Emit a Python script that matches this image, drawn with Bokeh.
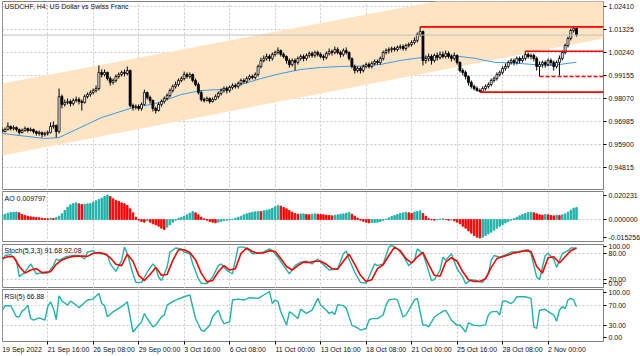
from bokeh.plotting import figure
from bokeh.layouts import column
from bokeh.models import (FixedTicker, Range1d, Label, ColumnDataSource, Span, Grid,
                          PrintfTickFormatter)
from bokeh.embed import file_html
from bokeh.resources import INLINE

FONT = "Liberation Sans"
FS = "7px"
GRID = "#c8c8c8"
TEAL = "#20b2aa"
RED = "#ff0000"

# ---------------- data ----------------
title_text = "USDCHF, H4:  US Dollar vs Swiss Franc"
time_bars = [0, 16, 32, 48, 64, 80, 96, 112, 128, 144, 160, 176, 192]
time_labels = ["19 Sep 2022", "21 Sep 16:00", "26 Sep 08:00", "29 Sep 00:00", "3 Oct 16:00",
               "6 Oct 08:00", "11 Oct 00:00", "13 Oct 16:00", "18 Oct 08:00", "21 Oct 00:00",
               "25 Oct 16:00", "28 Oct 08:00", "2 Nov 00:00"]

first_open = 0.9661
close = [
    0.9651, 0.9661, 0.9675, 0.9665, 0.9670, 0.9661, 0.9647, 0.9656, 0.9665, 0.9656,
    0.9661, 0.9651, 0.9642, 0.9647, 0.9637, 0.9642, 0.9647, 0.9675, 0.9680, 0.9651,
    0.9816, 0.9779, 0.9788, 0.9793, 0.9783, 0.9798, 0.9802, 0.9793, 0.9788, 0.9816,
    0.9826, 0.9835, 0.9845, 0.9854, 0.9930, 0.9920, 0.9930, 0.9901, 0.9883, 0.9892,
    0.9911, 0.9920, 0.9930, 0.9925, 0.9939, 0.9774, 0.9765, 0.9769, 0.9760, 0.9779,
    0.9835, 0.9812, 0.9798, 0.9760, 0.9750, 0.9779, 0.9793, 0.9807, 0.9821, 0.9845,
    0.9864, 0.9873, 0.9892, 0.9901, 0.9920, 0.9911, 0.9920, 0.9892, 0.9873, 0.9835,
    0.9802, 0.9798, 0.9807, 0.9793, 0.9802, 0.9816, 0.9831, 0.9845, 0.9854, 0.9845,
    0.9859, 0.9868, 0.9864, 0.9878, 0.9892, 0.9887, 0.9901, 0.9911, 0.9906, 0.9920,
    0.9958, 0.9986, 0.9996, 1.0005, 0.9996, 1.0015, 1.0024, 1.0033, 1.0015, 1.0005,
    0.9986, 0.9967, 0.9986, 0.9977, 0.9996, 1.0005, 0.9996, 1.0010, 1.0019, 1.0010,
    1.0024, 1.0015, 1.0005, 1.0000, 1.0019, 1.0029, 1.0024, 1.0038, 1.0024, 1.0015,
    1.0033, 1.0024, 0.9996, 0.9958, 0.9939, 0.9949, 0.9939, 0.9958, 0.9967, 0.9958,
    0.9972, 0.9982, 0.9977, 0.9996, 1.0024, 1.0033, 1.0038, 1.0043, 1.0038, 1.0048,
    1.0052, 1.0043, 1.0057, 1.0062, 1.0071, 1.0081, 1.0109, 1.0123, 0.9986, 0.9996,
    1.0005, 0.9986, 1.0010, 1.0000, 1.0015, 1.0005, 1.0019, 1.0005, 0.9996, 1.0010,
    0.9977, 0.9939, 0.9930, 0.9911, 0.9883, 0.9864, 0.9854, 0.9845, 0.9840, 0.9854,
    0.9864, 0.9873, 0.9892, 0.9901, 0.9920, 0.9930, 0.9949, 0.9958, 0.9977, 0.9986,
    0.9977, 0.9996, 0.9986, 0.9996, 1.0015, 1.0005, 1.0010, 0.9996, 0.9958, 0.9967,
    0.9977, 0.9967, 0.9986, 0.9977, 0.9958, 0.9977, 0.9996, 1.0024, 1.0057, 1.0090,
    1.0128, 1.0137, 1.01062,
]
high = [
    0.9670, 0.9670, 0.9694, 0.9680, 0.9680, 0.9675, 0.9665, 0.9665, 0.9675, 0.9670,
    0.9670, 0.9665, 0.9656, 0.9656, 0.9651, 0.9651, 0.9656, 0.9694, 0.9699, 0.9684,
    0.9854, 0.9826, 0.9802, 0.9807, 0.9802, 0.9807, 0.9816, 0.9812, 0.9802, 0.9826,
    0.9835, 0.9845, 0.9854, 0.9868, 0.9963, 0.9944, 0.9944, 0.9934, 0.9911, 0.9901,
    0.9920, 0.9930, 0.9939, 0.9944, 0.9958, 0.9944, 0.9783, 0.9779, 0.9779, 0.9788,
    0.9849, 0.9840, 0.9821, 0.9802, 0.9769, 0.9788, 0.9802, 0.9816, 0.9831, 0.9854,
    0.9873, 0.9887, 0.9901, 0.9911, 0.9934, 0.9930, 0.9930, 0.9925, 0.9901, 0.9883,
    0.9845, 0.9812, 0.9816, 0.9812, 0.9812, 0.9826, 0.9840, 0.9854, 0.9864, 0.9864,
    0.9868, 0.9878, 0.9878, 0.9887, 0.9901, 0.9901, 0.9911, 0.9920, 0.9920, 0.9930,
    0.9967, 1.0000, 1.0010, 1.0019, 1.0015, 1.0024, 1.0033, 1.0048, 1.0038, 1.0024,
    1.0010, 0.9996, 0.9996, 0.9996, 1.0005, 1.0015, 1.0015, 1.0019, 1.0029, 1.0029,
    1.0033, 1.0033, 1.0024, 1.0015, 1.0029, 1.0043, 1.0038, 1.0052, 1.0048, 1.0033,
    1.0043, 1.0048, 1.0029, 1.0000, 0.9967, 0.9958, 0.9958, 0.9967, 0.9977, 0.9977,
    0.9982, 0.9991, 0.9991, 1.0005, 1.0033, 1.0043, 1.0048, 1.0052, 1.0052, 1.0057,
    1.0062, 1.0062, 1.0066, 1.0071, 1.0081, 1.0095, 1.0118, 1.0145, 1.0128, 1.0010,
    1.0019, 1.0015, 1.0019, 1.0024, 1.0029, 1.0029, 1.0033, 1.0029, 1.0015, 1.0024,
    1.0015, 0.9982, 0.9949, 0.9939, 0.9916, 0.9892, 0.9873, 0.9864, 0.9854, 0.9864,
    0.9873, 0.9883, 0.9901, 0.9911, 0.9930, 0.9939, 0.9958, 0.9972, 0.9986, 0.9996,
    0.9996, 1.0005, 1.0005, 1.0010, 1.0030, 1.0024, 1.0019, 1.0019, 1.0005, 0.9982,
    0.9986, 0.9986, 0.9996, 0.9996, 0.9986, 0.9986, 1.0010, 1.0033, 1.0066, 1.0099,
    1.0137, 1.0145, 1.0142,
]
low = [
    0.9642, 0.9647, 0.9656, 0.9656, 0.9656, 0.9651, 0.9637, 0.9642, 0.9651, 0.9647,
    0.9651, 0.9642, 0.9632, 0.9632, 0.9623, 0.9628, 0.9632, 0.9642, 0.9665, 0.9623,
    0.9642, 0.9760, 0.9769, 0.9779, 0.9769, 0.9774, 0.9788, 0.9779, 0.9750, 0.9783,
    0.9807, 0.9816, 0.9826, 0.9835, 0.9845, 0.9906, 0.9911, 0.9892, 0.9868, 0.9873,
    0.9883, 0.9901, 0.9911, 0.9911, 0.9916, 0.9765, 0.9750, 0.9755, 0.9750, 0.9750,
    0.9774, 0.9802, 0.9783, 0.9746, 0.9736, 0.9746, 0.9769, 0.9783, 0.9798, 0.9812,
    0.9835, 0.9854, 0.9864, 0.9883, 0.9892, 0.9901, 0.9901, 0.9883, 0.9864, 0.9826,
    0.9793, 0.9788, 0.9793, 0.9783, 0.9788, 0.9798, 0.9807, 0.9821, 0.9835, 0.9831,
    0.9835, 0.9849, 0.9854, 0.9854, 0.9868, 0.9878, 0.9878, 0.9892, 0.9897, 0.9897,
    0.9911, 0.9949, 0.9977, 0.9986, 0.9982, 0.9986, 1.0005, 1.0015, 1.0005, 0.9996,
    0.9972, 0.9953, 0.9958, 0.9939, 0.9967, 0.9986, 0.9982, 0.9986, 1.0000, 1.0000,
    1.0000, 1.0005, 0.9996, 0.9986, 0.9991, 1.0010, 1.0010, 1.0015, 1.0015, 1.0000,
    1.0005, 1.0015, 0.9986, 0.9949, 0.9925, 0.9930, 0.9925, 0.9930, 0.9949, 0.9949,
    0.9949, 0.9963, 0.9967, 0.9967, 0.9986, 1.0015, 1.0019, 1.0024, 1.0029, 1.0029,
    1.0038, 1.0033, 1.0033, 1.0048, 1.0052, 1.0062, 1.0071, 1.0099, 0.9963, 0.9972,
    0.9982, 0.9967, 0.9977, 0.9986, 0.9991, 0.9996, 0.9996, 0.9996, 0.9982, 0.9986,
    0.9967, 0.9930, 0.9916, 0.9897, 0.9868, 0.9854, 0.9845, 0.9840, 0.9837, 0.9840,
    0.9845, 0.9854, 0.9864, 0.9883, 0.9892, 0.9911, 0.9920, 0.9939, 0.9949, 0.9967,
    0.9963, 0.9967, 0.9972, 0.9977, 0.9986, 0.9996, 0.9991, 0.9982, 0.9939, 0.9911,
    0.9953, 0.9953, 0.9958, 0.9963, 0.9939, 0.9949, 0.9916, 0.9986, 1.0015, 1.0048,
    1.0081, 1.0118, 1.0099,
]

ma_bars = [0, 15, 20, 35, 45, 54, 63, 70, 77, 84, 91, 98, 105, 112, 119, 126, 133, 140,
           145, 151, 157, 161, 166, 173, 182, 192, 196, 202]
ma_vals = [0.96419, 0.96183, 0.96230, 0.97174, 0.97598, 0.97834, 0.98259, 0.98447, 0.98495,
           0.98730, 0.99013, 0.99249, 0.99438, 0.99532, 0.99580, 0.99603, 0.99674, 0.99863,
           0.99957, 1.00051, 1.00098, 1.00051, 0.99971, 0.99782, 0.99721, 0.99627, 0.99674,
           0.99782]

price_ticks = [1.02410, 1.01325, 1.00240, 0.99155, 0.98070, 0.96985, 0.95900, 0.94815]
bid_price = 1.01062
level_prices = [1.0145, 1.0030, 0.9911, 0.9837]
level_start = [147, 184, 189, 168]
level_dash = ["solid", "solid", "4 2", "solid"]
channel_bars = [0.1, 211.5]
channel_upper = [0.98778, 1.04155]
channel_lower = [0.95381, 1.00901]

ao = [
    0.00386, 0.00441, 0.00523, 0.00579, 0.00606, 0.00620, 0.00551, 0.00413, 0.00331, 0.00275,
    0.00220, 0.00193, 0.00165, 0.00138, 0.00110, 0.00083, 0.00055, 0.00110, 0.00083, 0.00165,
    0.00275, 0.00468, 0.00744, 0.01019, 0.01212, 0.01322, 0.01377, 0.01295, 0.01240, 0.01267,
    0.01295, 0.01322, 0.01433, 0.01543, 0.01653, 0.01763, 0.01901, 0.020231, 0.01901, 0.01708,
    0.01570, 0.01488, 0.01377, 0.01295, 0.01157, 0.00882, 0.00551, 0.00193, -0.00055, -0.00165,
    -0.00220, -0.00110, -0.00220, -0.00358, -0.00441, -0.00551, -0.00716, -0.00826, -0.00634, -0.00441,
    -0.00220, -0.00055, 0.00110, 0.00165, 0.00275, 0.00386, 0.00523, 0.00661, 0.00551, 0.00386,
    0.00193, 0.00055, -0.00055, -0.00165, -0.00220, -0.00275, -0.00220, -0.00165, -0.00110, -0.00055,
    -0.00028, 0.00014, 0.00110, 0.00193, 0.00275, 0.00386, 0.00468, 0.00551, 0.00606, 0.00634,
    0.00661, 0.00647, 0.00716, 0.00771, 0.00826, 0.00937, 0.01047, 0.01157, 0.01102, 0.00992,
    0.00882, 0.00744, 0.00606, 0.00496, 0.00441, 0.00455, 0.00468, 0.00413, 0.00386, 0.00441,
    0.00468, 0.00441, 0.00413, 0.00386, 0.00358, 0.00331, 0.00303, 0.00358, 0.00386, 0.00441,
    0.00468, 0.00523, 0.00579, 0.00441, 0.00275, 0.00110, -0.00055, -0.00138, -0.00220, -0.00275,
    -0.00262, -0.00248, -0.00220, -0.00165, -0.00083, 0.00028, 0.00138, 0.00248, 0.00331, 0.00413,
    0.00496, 0.00551, 0.00606, 0.00551, 0.00496, 0.00606, 0.00661, 0.00716, 0.00496, 0.00275,
    0.00055, -0.00028, -0.00055, -0.00028, 0.00028, 0.00055, 0.00000, -0.00055, -0.00028, -0.00110,
    -0.00220, -0.00358, -0.00551, -0.00716, -0.00937, -0.01129, -0.01322, -0.01460, -0.015256, -0.01460,
    -0.01322, -0.01185, -0.01047, -0.00882, -0.00716, -0.00551, -0.00413, -0.00275, -0.00165, -0.00055,
    0.00083, 0.00193, 0.00303, 0.00413, 0.00496, 0.00579, 0.00606, 0.00551, 0.00468, 0.00386,
    0.00358, 0.00413, 0.00386, 0.00331, 0.00303, 0.00358, 0.00331, 0.00386, 0.00468, 0.00606,
    0.00771, 0.00937, 0.009797,
]
ao_ticks = [0.020231, 0.0, -0.015256]

k_bars = [0, 1, 3, 5, 6, 8, 10, 11, 12, 13, 16, 18, 19, 20, 22, 23, 25, 27, 29, 30, 32, 33, 35,
          37, 38, 40, 42, 43, 44, 46, 47, 49, 51, 53, 54, 55, 56, 58, 59, 61, 63, 64, 66, 67,
          69, 70, 72, 74, 76, 77, 79, 81, 82, 83, 85, 87, 88, 90, 92, 94, 95, 97, 99, 101, 103,
          105, 107, 109, 111, 112, 114, 115, 118, 120, 121, 122, 124, 126, 128, 129, 131, 132,
          134, 136, 137, 139, 141, 143, 145, 146, 148, 149, 151, 152, 154, 155, 156, 158, 160,
          162, 163, 165, 167, 169, 171, 172, 173, 175, 178, 179, 181, 183, 185, 186, 188, 189,
          191, 192, 194, 195, 197, 199, 200, 202]
k_vals = [64, 75, 77, 64, 27, 37, 56, 45, 33, 35, 35, 52, 67, 64, 71, 73, 75, 75, 67, 83, 86, 80,
          79, 77, 56, 39, 64, 94, 79, 33, 14, 14, 37, 56, 48, 26, 18, 48, 83, 92, 90, 83, 79, 56,
          22, 12, 11, 26, 52, 56, 41, 33, 64, 94, 94, 86, 79, 80, 83, 90, 86, 71, 52, 33, 52,
          60, 62, 56, 67, 60, 48, 42, 45, 79, 85, 67, 37, 14, 12, 26, 56, 52, 56, 94, 98, 90,
          75, 52, 64, 90, 79, 60, 18, 20, 41, 71, 64, 79, 45, 26, 11, 20, 18, 14, 33, 64, 75,
          71, 79, 83, 83, 86, 88, 79, 26, 20, 75, 80, 67, 48, 79, 86, 92, 91.68]
d_bars = [0, 2, 4, 6, 8, 10, 12, 14, 17, 19, 21, 23, 25, 28, 30, 32, 34, 36, 38, 40, 42, 44, 46,
          48, 50, 52, 54, 56, 58, 60, 62, 64, 66, 68, 70, 72, 74, 76, 78, 80, 82, 84, 86, 88,
          90, 92, 94, 96, 98, 100, 102, 104, 106, 108, 110, 112, 114, 116, 118, 120, 122, 124,
          126, 128, 130, 132, 134, 136, 138, 140, 142, 144, 146, 148, 150, 152, 154, 156, 158,
          160, 162, 164, 166, 168, 170, 172, 174, 176, 178, 180, 182, 184, 186, 188, 190, 192,
          194, 196, 198, 200, 202]
d_vals = [68, 72, 72, 50, 35, 42, 45, 36, 38, 55, 65, 70, 73, 74, 73, 80, 82, 79, 70, 55, 52, 78,
          62, 30, 18, 32, 48, 30, 32, 64, 88, 88, 82, 65, 35, 15, 18, 38, 52, 42, 45, 80, 92,
          84, 80, 81, 86, 84, 68, 50, 42, 52, 60, 59, 62, 62, 55, 45, 44, 62, 78, 55, 30, 16,
          20, 45, 54, 75, 94, 86, 68, 58, 72, 82, 55, 30, 28, 60, 70, 62, 38, 20, 16, 16, 22,
          48, 68, 72, 76, 81, 83, 86, 84, 50, 35, 70, 72, 58, 72, 86, 92.08]
stoch_ticks = [95.5, 80, 20, 12]
stoch_tick_labels = ["100.00", "80.00", "20.00", "0.00"]

rsi_bars = [0, 1, 3, 5, 6, 7, 8, 9, 10, 11, 13, 15, 16, 17, 18, 19, 20, 21, 23, 24, 26, 27, 29,
            30, 32, 34, 35, 36, 37, 39, 41, 43, 44, 46, 47, 49, 50, 51, 53, 54, 56, 57, 58, 60,
            61, 64, 66, 67, 68, 70, 71, 73, 74, 76, 77, 78, 80, 81, 83, 85, 87, 90, 92, 94, 95,
            96, 97, 98, 100, 101, 102, 104, 105, 107, 109, 111, 112,
            114, 115, 116, 117, 118, 120, 121, 123, 125, 126, 128, 129, 130, 132, 134, 135, 136,
            138, 139, 141, 142, 144, 145, 146, 148, 149, 150, 152, 153, 155, 156, 157, 158, 160,
            161, 162, 163, 164, 166, 168, 169, 170, 171, 172, 174, 175, 176, 177, 179, 180, 181,
            183, 184, 186, 187, 188, 189, 191, 193, 194, 195, 196, 197, 198, 199, 200, 201, 202]
rsi_vals = [60.3, 68.7, 68.7, 47.5, 47.5, 58.4, 62.3, 70.0, 44.2, 41.0, 45.5, 41.0, 66.8, 76.5,
            63.6, 42.0, 88.0, 78.0, 70.0, 77.8, 70.0, 64.9, 75.2, 79.7, 81.6, 92.6, 73.2, 68.7,
            47.5, 57.1, 63.6, 71.3, 76.5, 18.4, 24.9, 37.8, 53.9, 44.2, 28.1, 31.3, 47.5, 50.7,
            70.0, 76.5, 79.7, 86.1, 89.4, 66.8, 44.2, 21.7, 19.7, 31.3, 47.5, 60.3, 44.2, 34.5,
            37.8, 79.7, 81.6, 79.7, 84.2, 82.9, 89.4, 95.8, 73.2, 79.7, 76.5, 57.1, 31.3, 57.1,
            53.9, 44.2, 62.3, 53.9, 60.3, 82.9, 70.0,
            60, 54, 57, 52, 71, 69, 64, 31, 26, 22, 25, 41, 44, 44, 51, 70, 80,
            82, 80, 47, 51, 70, 80, 83, 31, 32, 28, 47, 51, 58, 60, 51, 41, 31,
            32, 25, 18, 36, 31, 30, 31, 32, 51, 57, 58, 51, 77, 78, 73, 77, 86,
            86, 86, 83, 28, 25, 60, 62, 54, 51, 39, 60, 67, 63, 80, 83, 80, 66.88]
rsi_ticks = [93.7, 70, 30, 8.3]
rsi_tick_labels = ["100.00", "70.00", "30.00", "0.00"]

# ---------------- derived series ----------------
n = len(close)
idx = list(range(n))
opens = [first_open] + close[:-1]
bull = [c >= o for o, c in zip(opens, close)]

X = Range1d(0.1, 211.5)
PX_PER_BAR = 601 / (X.end - X.start)


def style_yaxis(p, ticks, overrides=None, fmt=None):
    ax = p.yaxis[0]
    ax.ticker = FixedTicker(ticks=ticks)
    if overrides:
        ax.major_label_overrides = overrides
    if fmt:
        ax.formatter = PrintfTickFormatter(format=fmt)
    ax.axis_line_color = None
    ax.major_tick_out = 3
    ax.major_tick_in = 0
    ax.major_tick_line_color = "#000000"
    ax.minor_tick_line_color = None
    ax.major_label_standoff = 2
    ax.major_label_text_font = FONT
    ax.major_label_text_font_size = FS
    ax.major_label_text_color = "#111111"


def make_fig(frame_h, yr, top, bottom, with_x=False):
    p = figure(frame_width=601, frame_height=frame_h, x_range=X, y_range=yr,
               output_backend="svg", toolbar_location=None, title=None,
               x_axis_location="below" if with_x else None, y_axis_location="right",
               min_border_left=2, min_border_right=37, min_border_top=top,
               min_border_bottom=bottom)
    p.outline_line_color = "#808080"
    p.outline_line_width = 1
    p.background_fill_color = "white"
    p.border_fill_color = "white"
    p.grid.visible = False
    p.add_layout(Grid(dimension=0, ticker=FixedTicker(ticks=time_bars),
                      grid_line_color=GRID, grid_line_dash="2 2"))
    return p


def add_label(p, text, dy):
    p.add_layout(Label(x=X.start, y=p.y_range.end, x_offset=2, y_offset=dy, text=text,
                       text_baseline="top", text_align="left", text_font=FONT,
                       text_font_size=FS, text_color="#111111"))


# ---------------- main price panel ----------------
p = make_fig(189, Range1d(0.93730, 1.02646), 1, 0)
style_yaxis(p, price_ticks, fmt="%.5f")
p.add_layout(Grid(dimension=1, ticker=FixedTicker(ticks=price_ticks),
                  grid_line_color=GRID, grid_line_dash="2 2"))
p.patch(x=channel_bars + channel_bars[::-1], y=channel_upper + channel_lower[::-1],
        fill_color="#ffe4c4", line_color=None)
p.add_layout(Span(location=bid_price, dimension="width", line_color="#c0c0c0", line_width=1))
p.line(ma_bars, ma_vals, line_color="#3d9ae8", line_width=1)

src = ColumnDataSource(dict(x=idx, o=opens, c=close, h=high, l=low,
                            fill=["#ffffff" if b else "#000000" for b in bull]))
p.segment(x0="x", y0="l", x1="x", y1="h", source=src, line_color="#000000", line_width=1)
p.vbar(x="x", top="o", bottom="c", width=0.7, source=src, fill_color="fill",
       line_color="#000000", line_width=0.8)

for lp, ls, ld in zip(level_prices, level_start, level_dash):
    p.segment(x0=[ls], y0=[lp], x1=[X.end], y1=[lp], line_color=RED, line_width=1.6,
              line_dash=ld)

p.add_layout(Label(x=X.end, y=bid_price, x_offset=1, text="%.5f" % bid_price,
                   text_baseline="middle", text_align="left", text_font=FONT,
                   text_font_size=FS, text_color="white", background_fill_color="#c0c0c0"))
add_label(p, title_text, -1)

# ---------------- AO panel ----------------
pa = make_fig(51, Range1d(-0.0190, 0.02313), 1, 0)
style_yaxis(pa, ao_ticks, fmt="%.6f")
pa.add_layout(Grid(dimension=1, ticker=FixedTicker(ticks=[0.0]),
                   grid_line_color=GRID, grid_line_dash="2 2"))
ao_col = [TEAL] + [TEAL if ao[i] > ao[i - 1] else RED for i in range(1, n)]
pa.vbar(x=idx, top=ao, bottom=0, width=0.5, color=ao_col)
add_label(pa, "AO %.6f" % ao[-1], -3)

# ---------------- Stochastic panel ----------------
ps = make_fig(44, Range1d(0, 100), 2, 0)
style_yaxis(ps, stoch_ticks, overrides=dict(zip(stoch_ticks, stoch_tick_labels)))
ps.add_layout(Grid(dimension=1, ticker=FixedTicker(ticks=[80, 20]),
                   grid_line_color=GRID, grid_line_dash="2 2"))
ps.line(k_bars, k_vals, line_color=TEAL, line_width=1.4)
ps.line(d_bars, d_vals, line_color=RED, line_width=1.6)
add_label(ps, "Stoch(5,3,3) %.2f %.2f" % (k_vals[-1], d_vals[-1]), -2)

# ---------------- RSI panel ----------------
pr = make_fig(52, Range1d(0, 100), 1, 14, with_x=True)
style_yaxis(pr, rsi_ticks, overrides=dict(zip(rsi_ticks, rsi_tick_labels)))
pr.add_layout(Grid(dimension=1, ticker=FixedTicker(ticks=[70, 30]),
                   grid_line_color=GRID, grid_line_dash="2 2"))
pr.line(rsi_bars, rsi_vals, line_color=TEAL, line_width=1.4)
add_label(pr, "RSI(5) %.2f" % rsi_vals[-1], -3)

EM = {" ": 0.278, ":": 0.278, "S": 0.667, "O": 0.778, "N": 0.722, "e": 0.556, "p": 0.556,
      "c": 0.5, "t": 0.278, "o": 0.556, "v": 0.5}


def text_w(s):
    return sum(EM.get(ch, 0.556) for ch in s) * float(FS[:-2])


centers = [round(b + (text_w(s) / 2) / PX_PER_BAR, 3) for b, s in zip(time_bars, time_labels)]
xa = pr.xaxis[0]
xa.ticker = FixedTicker(ticks=centers, minor_ticks=time_bars)
xa.major_label_overrides = dict(zip(centers, time_labels))
xa.axis_line_color = None
xa.major_tick_line_color = None
xa.major_tick_out = 3
xa.major_tick_in = 0
xa.minor_tick_line_color = "#000000"
xa.minor_tick_out = 3
xa.minor_tick_in = 0
xa.major_label_standoff = 1
xa.major_label_text_font = FONT
xa.major_label_text_font_size = FS
xa.major_label_text_color = "#111111"

layout = column(p, pa, ps, pr, spacing=0)
open("out.html", "w").write(file_html(layout, INLINE))
